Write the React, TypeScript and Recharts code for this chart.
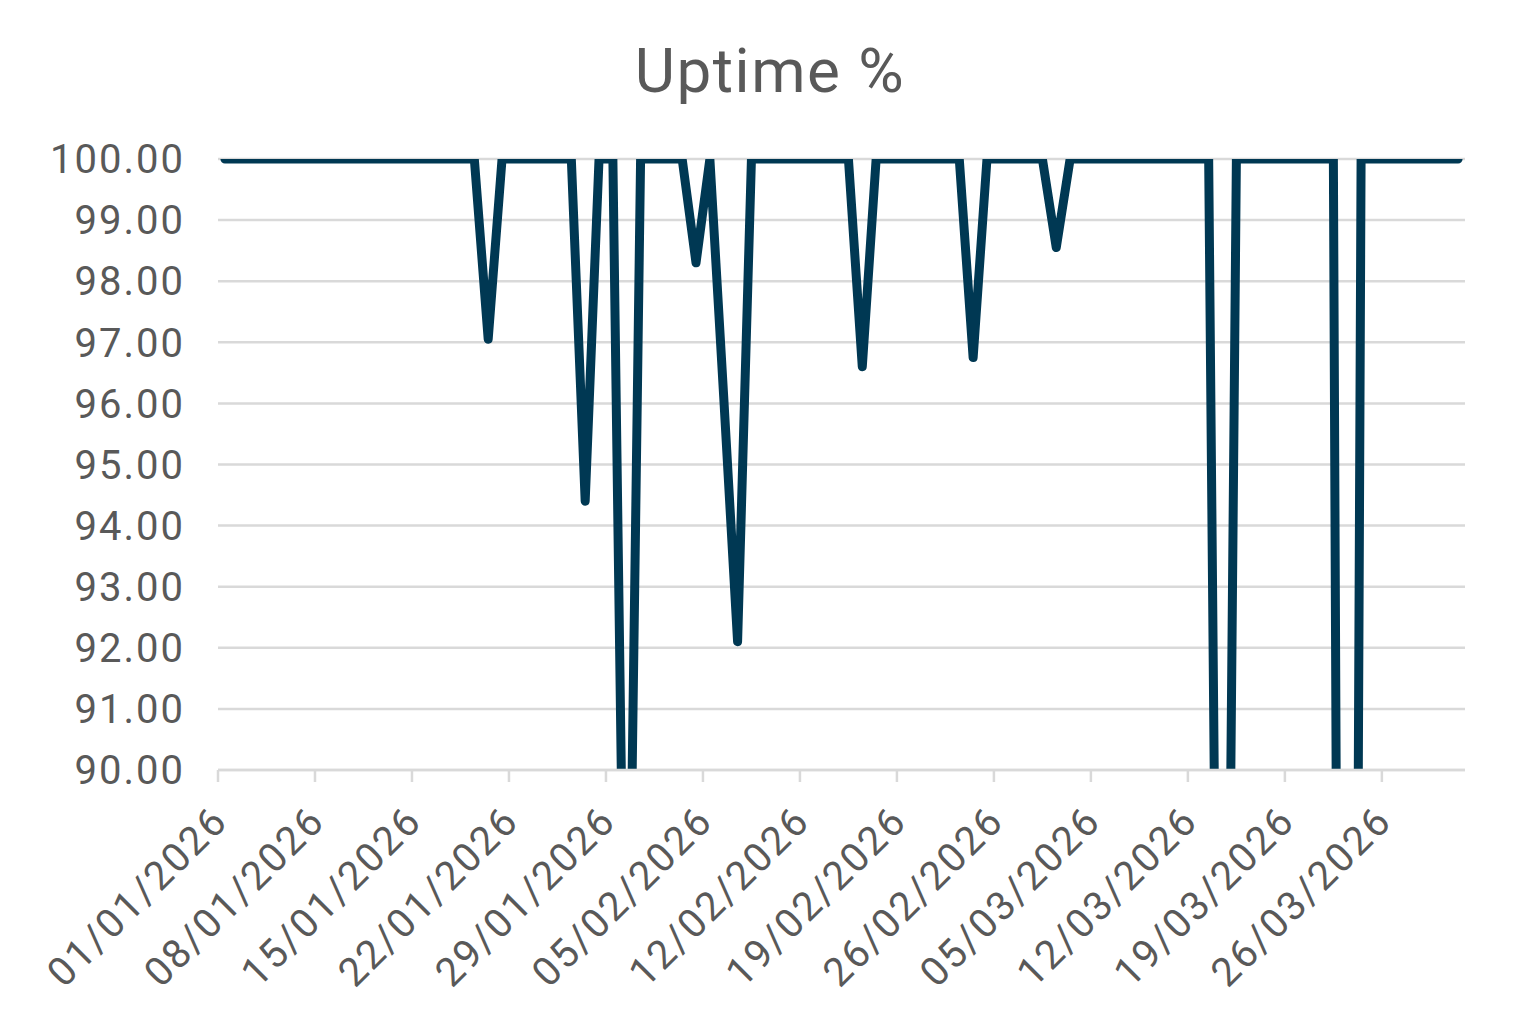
import React from "react";
import { LineChart, Line, XAxis, YAxis, CartesianGrid } from "recharts";

// one value per day, 01/01/2026 .. 31/03/2026
const uptime = [
  100, 100, 100, 100, 100, 100, 100, 100, 100, 100,
  100, 100, 100, 100, 100, 100, 100, 100, 100, 97.05,
  100, 100, 100, 100, 100, 100, 94.4, 100, 100, 83.5,
  100, 100, 100, 100, 98.3, 100, 96.1, 92.1, 100, 100,
  100, 100, 100, 100, 100, 100, 96.6, 100, 100, 100,
  100, 100, 100, 100, 96.75, 100, 100, 100, 100, 100,
  98.55, 100, 100, 100, 100, 100, 100, 100, 100, 100,
  100, 100, 75, 100, 100, 100, 100, 100, 100, 100,
  100, 50, 100, 100, 100, 100, 100, 100, 100, 100,
];

const tickLabels = [
  "01/01/2026", "08/01/2026", "15/01/2026", "22/01/2026", "29/01/2026",
  "05/02/2026", "12/02/2026", "19/02/2026", "26/02/2026", "05/03/2026",
  "12/03/2026", "19/03/2026", "26/03/2026",
];
const tickDays = tickLabels.map((_, i) => i * 7);

const yTicks = [90, 91, 92, 93, 94, 95, 96, 97, 98, 99, 100];

const data = uptime.map((v, i) => ({ day: i + 0.5, uptime: v }));

const FONT = "Roboto, 'Liberation Sans', sans-serif";
const GREY = "#595959";
const GRID = "#d9d9d9";

const DateTick = (props: any) => {
  const { x, y, payload } = props;
  const idx = tickDays.indexOf(payload.value);
  const ax = x + 12;
  const ay = y + 41;
  return (
    <text
      x={ax}
      y={ay}
      transform={`rotate(-45 ${ax} ${ay})`}
      textAnchor="end"
      fill={GREY}
      fontSize={40}
      fontFamily={FONT}
      letterSpacing={2.2}
    >
      {tickLabels[idx]}
    </text>
  );
};

export default function App() {
  return (
    <div style={{ position: "absolute", left: 0, top: 0, width: 1540, height: 1031, background: "#fff" }}>
      <div
        style={{
          position: "absolute",
          left: 0,
          top: 40,
          width: 1540,
          textAlign: "center",
          fontFamily: FONT,
          fontSize: 62,
          lineHeight: 1,
          letterSpacing: 1.5,
          color: GREY,
        }}
      >
        Uptime %
      </div>
      <LineChart
        width={1540}
        height={1031}
        data={data}
        margin={{ top: 159, right: 75, bottom: 61, left: 18 }}
        style={{ position: "absolute", left: 0, top: 0 }}
      >
        <CartesianGrid vertical={false} stroke={GRID} strokeWidth={2.5} />
        <XAxis
          type="number"
          dataKey="day"
          domain={[0, 90]}
          ticks={tickDays}
          interval={0}
          height={200}
          axisLine={{ stroke: GRID, strokeWidth: 2.5 }}
          tickLine={{ stroke: GRID, strokeWidth: 2.5 }}
          tickSize={12}
          tickMargin={0}
          tick={<DateTick />}
        />
        <YAxis
          type="number"
          domain={[90, 100]}
          ticks={yTicks}
          allowDataOverflow
          width={200}
          axisLine={false}
          tickLine={false}
          tickSize={0}
          tickMargin={33}
          tickFormatter={(v: number) => v.toFixed(2)}
          tick={{ fill: GREY, fontSize: 40, fontFamily: FONT, letterSpacing: 2 }}
        />
        <Line
          type="linear"
          dataKey="uptime"
          stroke="#003853"
          strokeWidth={9}
          strokeLinejoin="round"
          strokeLinecap="round"
          dot={false}
          activeDot={false}
          isAnimationActive={false}
        />
      </LineChart>
    </div>
  );
}
